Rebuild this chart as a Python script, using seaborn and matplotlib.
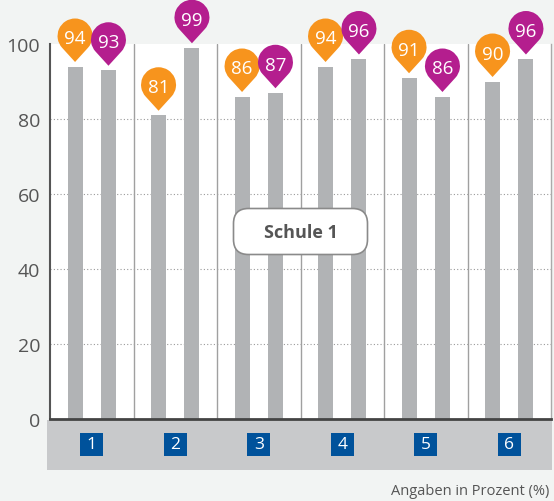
import numpy as np
import pandas as pd
import matplotlib
matplotlib.use("Agg")
import matplotlib.pyplot as plt
import seaborn as sns
from matplotlib.path import Path
from matplotlib.patches import PathPatch, Rectangle, FancyBboxPatch
import matplotlib.transforms as mtransforms

# ---- data ----
categories = ["1", "2", "3", "4", "5", "6"]
series_names = ["A", "B"]
series_a = [94, 81, 86, 94, 91, 90]
series_b = [93, 99, 87, 96, 86, 96]
y_ticks = [0, 20, 40, 60, 80, 100]
center_label = "Schule 1"
footnote = "Angaben in Prozent (%)"

pin_colors = ["#F7941D", "#B41E8E"]
bar_color = "#B1B3B5"

sns.set_theme(style="white")
plt.rcParams['font.family'] = ['Open Sans', 'DejaVu Sans']

df = pd.DataFrame({
    "group": categories * 2,
    "series": [series_names[0]] * len(categories) + [series_names[1]] * len(categories),
    "value": series_a + series_b,
})

W, H = 554, 502
fig = plt.figure(figsize=(W / 100, H / 100), dpi=100, facecolor="#F2F4F3")
ax = fig.add_axes([50 / W, (H - 420) / H, 501 / W, 375 / H])
ax.set_facecolor("white")

sns.barplot(data=df, x="group", y="value", hue="series", order=categories,
            hue_order=series_names, palette=[bar_color, bar_color], saturation=1,
            width=0.8, gap=0.55, errorbar=None, legend=False, ax=ax, zorder=2,
            linewidth=0)

ax.set_xlim(-0.5, len(categories) - 0.5)
ax.set_ylim(0, 100)
ax.set_xlabel("")
ax.set_ylabel("")

# grid
for y in y_ticks[1:-1]:
    ax.axhline(y, color="#9a9a9a", lw=0.8, ls=(0, (1, 2)), zorder=1)
for i in range(len(categories) - 1):
    ax.axvline(i + 0.5, color="#a0a0a0", lw=1, zorder=1)

# spines
ax.spines["top"].set_visible(False)
ax.spines["left"].set_color("#555555")
ax.spines["left"].set_linewidth(1.5)
ax.spines["bottom"].set_color("#444444")
ax.spines["bottom"].set_linewidth(2)
ax.spines["right"].set_color("#aaaaaa")
ax.spines["right"].set_linewidth(1)

ax.set_yticks(y_ticks)
ax.tick_params(axis="y", length=0, pad=7, labelsize=14, labelcolor="#555555")
ax.set_xticks(range(len(categories)))
ax.set_xticklabels([])
ax.tick_params(axis="x", length=0)


def pin_path(r=17.5, d=26):
    a = np.degrees(np.arccos(r / d))
    arc = Path.arc(-90 + a, 270 - a)
    verts = arc.vertices * r + np.array([0, d])
    codes = arc.codes.copy()
    verts = np.vstack([verts, [[0, 0], [0, 0]]])
    codes = np.concatenate([codes, [Path.LINETO, Path.CLOSEPOLY]])
    return Path(verts, codes)


pp = pin_path()
tip_gap = 4.5
for cont, col in zip(ax.containers, pin_colors):
    for bar in cont:
        x = bar.get_x() + bar.get_width() / 2
        h = bar.get_height()
        tr = mtransforms.Affine2D().translate(0, tip_gap) + \
            mtransforms.ScaledTranslation(x, h, ax.transData)
        patch = PathPatch(pp, fc=col, ec="none", transform=tr, clip_on=False, zorder=4)
        ax.add_artist(patch)
        ax.annotate(f"{h:.0f}", xy=(x, h), xytext=(0, tip_gap + 23.5),
                    textcoords="offset pixels", ha="center", va="center",
                    color="white", fontsize=13.5, annotation_clip=False, zorder=5)

# bottom band
fig.add_artist(Rectangle((47 / W, (H - 471) / H), (552 - 47) / W, 50 / H,
                         transform=fig.transFigure, fc="#C8C9CB", ec="none", zorder=0))

# category label boxes
for i, c in enumerate(categories):
    tr = mtransforms.Affine2D() + mtransforms.ScaledTranslation(i, 0, ax.transData)
    ax.add_artist(Rectangle((-11.5, -25.5 - 11.5), 23, 23, transform=tr,
                            fc="#00529B", ec="none", zorder=3, clip_on=False))
    ax.annotate(c, xy=(i, 0), xytext=(0, -25.5), textcoords="offset pixels",
                ha="center", va="center", color="white", fontsize=12.5,
                annotation_clip=False, zorder=4)

# center label box
tr = mtransforms.Affine2D() + mtransforms.ScaledTranslation(2.5, 50, ax.transData)
ax.add_artist(FancyBboxPatch((-67, -23), 134, 46,
                             boxstyle="round,pad=0,rounding_size=15",
                             fc="white", ec="#8a8a8a", lw=1.2, transform=tr, zorder=5))
ax.text(2.5, 50, center_label, ha="center", va="center", fontsize=13,
        weight="bold", color="#555555", zorder=6)

fig.text(549 / W, (H - 492) / H, footnote, ha="right", va="center",
         fontsize=10.5, color="#555555")

fig.savefig("out.png", dpi=100, facecolor=fig.get_facecolor())
